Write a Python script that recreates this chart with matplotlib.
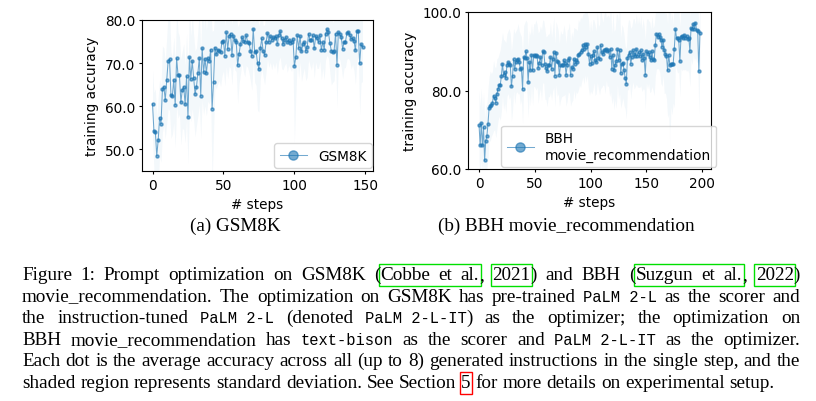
import numpy as np
import matplotlib
matplotlib.use("Agg")
import matplotlib.pyplot as plt
from matplotlib.font_manager import FontProperties
from matplotlib.patches import Rectangle

# mean accuracy per step
gsm8k_acc = [60.5, 54.2, 54.0, 48.5, 52.0, 57.3, 55.9, 64.0, 64.5, 61.4,
             66.0, 70.4, 70.9, 62.5, 62.4, 66.1, 60.3, 71.1, 67.2, 67.1,
             60.9, 63.8, 64.5, 60.4, 66.9, 57.4, 71.3, 66.3, 70.4, 66.6,
             62.8, 64.5, 67.7, 71.2, 62.4, 73.4, 67.9, 71.0, 67.7, 71.1,
             70.5, 73.1, 59.4, 65.6, 73.6, 72.0, 73.1, 72.9, 72.5, 75.0,
             75.2, 71.7, 77.1, 73.3, 76.2, 76.8, 71.9, 76.2, 75.4, 75.0,
             69.5, 72.1, 74.4, 76.0, 75.2, 74.8, 76.4, 75.0, 74.7, 72.9,
             71.6, 77.9, 72.5, 72.8, 70.0, 68.6, 73.4, 75.7, 72.7, 71.9,
             74.8, 76.9, 75.0, 76.2, 75.4, 76.0, 75.7, 76.2, 74.4, 76.5,
             77.4, 75.7, 74.4, 75.4, 76.0, 74.8, 75.4, 74.7, 75.0, 75.6,
             69.3, 71.3, 76.4, 73.4, 76.2, 72.7, 74.4, 74.8, 72.9, 73.7,
             76.8, 75.4, 75.4, 76.4, 73.4, 76.2, 75.7, 74.8, 76.4, 73.1,
             74.8, 73.1, 76.8, 77.8, 77.1, 74.7, 72.9, 72.5, 72.9, 76.8,
             69.6, 77.1, 76.8, 76.0, 73.3, 74.8, 75.0, 76.9, 77.1, 76.5,
             75.6, 75.7, 75.2, 73.0, 77.4, 77.4, 69.9, 74.4, 73.7]
gsm8k_std = [8, 9, 10, 9, 10, 9, 9, 10, 9, 9,
             10, 11, 12, 10, 9, 10, 10, 11, 10, 9,
             10, 9, 10, 9, 10, 11, 12, 10, 11, 10,
             10, 9, 10, 11, 10, 12, 10, 11, 10, 10,
             10, 11, 18, 12, 9, 8, 8, 7, 8, 8,
             7, 7, 8, 7, 7, 8, 7, 6, 7, 7,
             9, 7, 7, 6, 7, 8, 7, 6, 7, 7,
             8, 7, 7, 8, 11, 10, 7, 7, 6, 7,
             7, 6, 6, 6, 7, 6, 7, 6, 7, 6,
             6, 7, 6, 6, 6, 7, 6, 6, 7, 6,
             18, 9, 6, 7, 6, 7, 7, 6, 7, 7,
             6, 6, 7, 6, 7, 6, 7, 6, 6, 7,
             6, 7, 6, 6, 6, 7, 8, 7, 7, 6,
             10, 6, 6, 7, 7, 6, 6, 6, 6, 6,
             7, 6, 7, 8, 7, 6, 12, 9, 8]

bbh_acc = [71.2, 66.0, 71.7, 66.0, 70.6, 62.2, 67.2, 68.3, 71.5, 75.5,
           76.0, 76.3, 76.9, 78.7, 78.0, 76.9, 79.1, 80.4, 81.4, 81.4,
           83.6, 86.8, 84.0, 84.7, 83.2, 86.4, 87.2, 86.8, 86.4, 81.1,
           83.7, 87.9, 85.5, 87.2, 87.7, 88.1, 87.2, 85.4, 85.7, 80.4,
           88.5, 88.3, 90.0, 88.3, 82.1, 87.2, 85.1, 89.1, 85.1, 89.1,
           88.9, 89.1, 88.8, 85.7, 87.1, 88.5, 86.4, 90.0, 89.8, 86.8,
           85.7, 84.9, 86.4, 86.4, 88.5, 85.5, 87.9, 89.8, 83.8, 89.6,
           87.5, 87.2, 84.0, 86.4, 86.4, 86.6, 87.7, 87.1, 84.0, 86.4,
           87.7, 88.3, 84.0, 86.0, 85.5, 88.1, 86.8, 87.7, 87.2, 89.1,
           89.4, 89.8, 90.2, 91.5, 90.6, 91.9, 91.1, 91.9, 89.4, 86.8,
           88.9, 87.1, 89.1, 90.0, 87.7, 87.2, 91.1, 88.3, 87.9, 91.5,
           89.8, 89.4, 90.2, 90.2, 90.6, 90.0, 90.2, 88.5, 90.6, 85.5,
           89.1, 85.1, 86.6, 87.4, 90.5, 87.7, 90.2, 84.5, 86.8, 87.1,
           85.1, 83.2, 81.7, 88.3, 89.1, 89.8, 86.8, 88.5, 90.2, 89.4,
           88.9, 90.6, 88.9, 89.8, 88.8, 90.2, 87.7, 89.4, 88.3, 84.0,
           90.0, 89.4, 89.8, 88.5, 87.7, 90.0, 87.9, 87.7, 91.7, 94.5,
           93.6, 94.5, 93.6, 92.8, 91.1, 92.8, 90.2, 89.4, 88.9, 85.1,
           89.1, 86.6, 86.8, 86.8, 86.8, 90.6, 95.6, 93.4, 93.4, 92.8,
           87.4, 93.6, 94.0, 93.4, 94.2, 93.4, 93.9, 93.2, 93.4, 90.0,
           95.9, 95.6, 97.0, 95.7, 97.3, 95.3, 95.1, 84.9, 94.7]
bbh_std = [9, 10, 9, 9, 9, 11, 9, 8, 9, 8,
           9, 8, 8, 9, 8, 9, 9, 8, 8, 9,
           9, 8, 9, 8, 9, 8, 8, 9, 8, 9,
           9, 8, 9, 8, 8, 9, 8, 9, 8, 9,
           8, 9, 8, 9, 9, 8, 9, 8, 9, 8,
           8, 9, 8, 9, 8, 8, 9, 8, 8, 9,
           8, 9, 8, 8, 9, 8, 8, 9, 8, 8,
           9, 8, 8, 9, 8, 8, 9, 8, 8, 9,
           8, 9, 8, 9, 8, 8, 9, 8, 8, 9,
           8, 9, 8, 8, 9, 8, 9, 8, 9, 8,
           9, 8, 9, 8, 9, 8, 9, 8, 9, 11,
           9, 8, 9, 11, 8, 9, 9, 10, 11, 9,
           11, 10, 9, 12, 9, 10, 11, 9, 10, 9,
           9, 8, 9, 8, 9, 8, 9, 8, 8, 9,
           8, 9, 8, 9, 8, 9, 8, 9, 8, 9,
           8, 9, 8, 9, 8, 9, 8, 9, 8, 9,
           8, 9, 9, 11, 10, 9, 11, 10, 11, 12,
           15, 22, 11, 13, 10, 15, 9, 8, 9, 8,
           9, 8, 9, 8, 9, 8, 9, 8, 9, 9,
           8, 9, 8, 8, 9, 8, 8, 11, 8]

gsm8k_yticks = [50, 60, 70, 80]
bbh_yticks = [60, 80, 100]

subcaptions = ["(a) GSM8K", "(b) BBH movie_recommendation"]

# ` toggles typewriter font, [..] green link box, <..> red link box
caption_lines = [
    "Figure 1: Prompt optimization on GSM8K ([Cobbe et al.], [2021]) and BBH ([Suzgun et al.], [2022])",
    "movie_recommendation. The optimization on GSM8K has pre-trained `PaLM 2-L` as the scorer and",
    "the instruction-tuned `PaLM 2-L` (denoted `PaLM 2-L-IT`) as the optimizer; the optimization on",
    "BBH movie_recommendation has `text-bison` as the scorer and `PaLM 2-L-IT` as the optimizer.",
    "Each dot is the average accuracy across all (up to 8) generated instructions in the single step, and the",
    "shaded region represents standard deviation. See Section <5> for more details on experimental setup.",
]

plt.rcParams['font.family'] = 'DejaVu Sans'
plt.rcParams['font.size'] = 9.8

W, H = 816, 402
fig = plt.figure(figsize=(W / 100, H / 100), dpi=100)


def rect(l, t, r, b):
    return [l / W, 1 - b / H, (r - l) / W, (b - t) / H]


blue = '#1f77b4'


def panel(ax, acc, std, label, ylim, yticks, anchor):
    acc = np.array(acc, dtype=float)
    std = np.array(std, dtype=float)
    steps = np.arange(len(acc))
    ax.fill_between(steps, acc - std, acc + std, color=blue, alpha=0.05, lw=0)
    ax.plot(steps, acc, '-o', color=blue, alpha=0.62, lw=0.75, ms=2.2, label=label)
    ax.set_ylim(*ylim)
    ax.set_yticks(yticks)
    ax.yaxis.set_major_formatter('{x:.1f}')
    ax.set_xlabel('# steps')
    ax.set_ylabel('training accuracy')
    ax.tick_params(length=2.5, pad=2.5)
    ax.legend(loc='lower right', bbox_to_anchor=anchor, borderaxespad=0, markerscale=3)


ax1 = fig.add_axes(rect(142, 21, 373, 172))
panel(ax1, gsm8k_acc, gsm8k_std, 'GSM8K', (44.9, 80), gsm8k_yticks, (0.994, 0.02))
ax2 = fig.add_axes(rect(468, 13, 711, 170))
panel(ax2, bbh_acc, bbh_std, 'BBH\nmovie_recommendation', (60, 100), bbh_yticks, (1.022, 0.013))

renderer = fig.canvas.get_renderer()


def tw(s, fp):
    return renderer.get_text_width_height_descent(s, fp, ismath=False)[0]


def parse(line):
    words, word, buf = [], [], ''
    font, boxc, nbox = 'rm', None, 0
    for ch in line + ' ':
        if ch in '`[<]> ' and not (ch == ' ' and font == 'tt'):
            if buf:
                word.append((buf, font, boxc))
                buf = ''
            if ch == '`':
                font = 'tt' if font == 'rm' else 'rm'
            elif ch in '[<':
                nbox += 1
                boxc = ('#00e000' if ch == '[' else '#ff0000', nbox)
            elif ch in ']>':
                boxc = None
            elif word:
                words.append(word)
                word = []
        else:
            buf += ch
    return words


left, right = 22, 800
tt = FontProperties(family='Liberation Mono', size=11.2)
# size the serif font so the densest line fills the measure with normal spaces
rm = FontProperties(family='Liberation Serif', size=12.5)
fonts = {'rm': rm, 'tt': tt}
w5 = parse(caption_lines[4])
nat = sum(tw(s, fonts[f]) for w in w5 for s, f, _ in w)
nat += (len(w5) - 1) * (tw('a a', rm) - tw('aa', rm))
rm = FontProperties(family='Liberation Serif', size=12.5 * (right - left - 4) / nat)
fonts = {'rm': rm, 'tt': tt}

fig.text(235 / W, 1 - 231 / H, subcaptions[0], fontproperties=rm, ha='center', va='baseline')
fig.text(566 / W, 1 - 231 / H, subcaptions[1], fontproperties=rm, ha='center', va='baseline')

space = tw('a a', rm) - tw('aa', rm)
for i, line in enumerate(caption_lines):
    base = 280 + i * 21.6
    words = parse(line)
    widths = [sum(tw(s, fonts[f]) for s, f, _ in w) for w in words]
    if i < len(caption_lines) - 1:
        gap = (right - left - sum(widths)) / (len(words) - 1)
    else:
        gap = space
    x = left
    boxes = {}
    for w, wd in zip(words, widths):
        for s, f, b in w:
            pw = tw(s, fonts[f])
            fig.text(x / W, 1 - base / H, s, fontproperties=fonts[f], va='baseline', ha='left')
            if b is not None:
                lo, hi = boxes.get(b, (x, x + pw))
                boxes[b] = (min(lo, x), max(hi, x + pw))
            x += pw
        x += gap
    for (col, _), (lo, hi) in boxes.items():
        fig.patches.append(Rectangle(((lo - 1.5) / W, 1 - (base + 7) / H), (hi - lo + 3) / W, 22 / H,
                                     transform=fig.transFigure, fill=False, edgecolor=col, lw=1.0))

fig.savefig('out.png', dpi=100)
